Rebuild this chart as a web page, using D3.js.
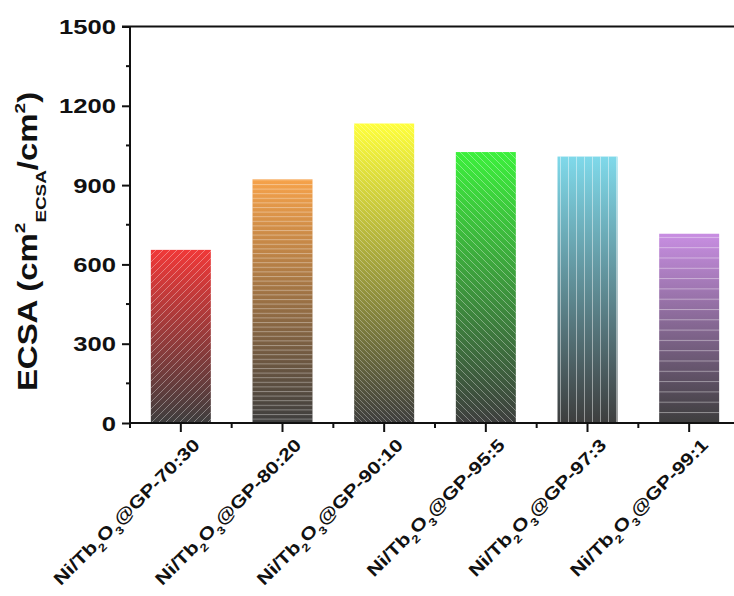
<!DOCTYPE html>
<html>
<head>
<meta charset="utf-8">
<script src="https://cdn.jsdelivr.net/npm/d3@7/dist/d3.min.js"></script>
<style>
  html, body { margin: 0; padding: 0; background: #fff; }
  svg { display: block; }
  text { font-family: Arial, "Liberation Sans", sans-serif; font-weight: bold; fill: #111; }
</style>
</head>
<body>
<svg id="chart" width="734" height="596"></svg>
<script>
// ECSA of Ni/Tb2O3@GP composites at different ratios
const ratios = ["70:30", "80:20", "90:10", "95:5", "97:3", "99:1"];
const ecsa = [655, 922, 1133, 1025, 1008, 716];
const topColors = ["#f03838", "#f6a24a", "#ffff3c", "#3cf03c", "#7fd9ea", "#c88ee2"];
const hatches = ["fwd", "hdense", "backdense", "back", "vert", "hsparse"];
const yTicks = [0, 300, 600, 900, 1200, 1500];
const yMinor = [150, 450, 750, 1050, 1350];

const svg = d3.select("#chart");
const margin = { left: 130, top: 26.5, bottom: 423 };
const wide = 1.22; // horizontal stretch applied to the bold labels

const x = d3.scaleBand()
  .domain(ratios)
  .range([margin.left, margin.left + 610])
  .paddingInner(0.41)
  .paddingOuter(0.205);

const y = d3.scaleLinear()
  .domain([0, 1500])
  .range([margin.bottom, margin.top]);

const defs = svg.append("defs");
const bottomColor = "#3e3e3e";

// vertical gradient per bar: bright colour at the top fading to dark grey
topColors.forEach((c, i) => {
  const g = defs.append("linearGradient")
    .attr("id", "grad" + i)
    .attr("x1", 0).attr("y1", 0).attr("x2", 0).attr("y2", 1);
  g.append("stop").attr("offset", "0%").attr("stop-color", c);
  g.append("stop").attr("offset", "100%").attr("stop-color", bottomColor);
});

// hatch patterns (light lines over the gradient)
function pattern(id, size, opacity, lines) {
  const p = defs.append("pattern")
    .attr("id", id)
    .attr("patternUnits", "userSpaceOnUse")
    .attr("width", size).attr("height", size);
  lines.forEach(l => {
    p.append("line")
      .attr("x1", l[0]).attr("y1", l[1]).attr("x2", l[2]).attr("y2", l[3])
      .attr("stroke", "#ffffff")
      .attr("stroke-opacity", opacity)
      .attr("stroke-width", 1);
  });
}
pattern("fwd", 7, 0.35, [[0, 7, 7, 0], [-1, 1, 1, -1], [6, 8, 8, 6]]);
pattern("back", 7, 0.35, [[0, 0, 7, 7], [-1, 6, 1, 8], [6, -1, 8, 1]]);
pattern("backdense", 5, 0.3, [[0, 0, 5, 5], [-1, 4, 1, 6], [4, -1, 6, 1]]);
pattern("hdense", 4.6, 0.35, [[0, 0.5, 4.6, 0.5]]);
pattern("hsparse", 10.3, 0.4, [[0, 0.5, 10.3, 0.5]]);
pattern("vert", 8, 0.45, [[0.5, 0, 0.5, 8]]);

// bars
const bars = svg.append("g");
ratios.forEach((r, i) => {
  const bx = x(r), bw = x.bandwidth(), by = y(ecsa[i]), bh = y(0) - y(ecsa[i]);
  bars.append("rect")
    .attr("x", bx).attr("y", by).attr("width", bw).attr("height", bh)
    .attr("fill", `url(#grad${i})`);
  bars.append("rect")
    .attr("x", bx).attr("y", by).attr("width", bw).attr("height", bh)
    .attr("fill", `url(#${hatches[i]})`);
});

// y axis (line and ticks from d3, labels drawn below)
const yAxis = svg.append("g")
  .attr("transform", `translate(${margin.left},0)`)
  .call(d3.axisLeft(y).tickValues(yTicks).tickSize(8).tickFormat(""));
yAxis.select(".domain").attr("stroke", "#111").attr("stroke-width", 2).attr("d", `M0,${y(1500)}V${y(0)}`);
yAxis.selectAll(".tick line").attr("stroke", "#111").attr("stroke-width", 2);

svg.append("g").selectAll("text").data(yTicks).join("text")
  .attr("transform", d => `translate(${margin.left - 14},${y(d) + 7.5}) scale(${wide},1)`)
  .attr("text-anchor", "end")
  .style("font-size", "21px")
  .text(d => d);

// y minor ticks
svg.append("g").selectAll("line").data(yMinor).join("line")
  .attr("x1", margin.left - 4).attr("x2", margin.left)
  .attr("y1", d => y(d)).attr("y2", d => y(d))
  .attr("stroke", "#111").attr("stroke-width", 2);

// top frame line
svg.append("line")
  .attr("x1", margin.left - 8).attr("x2", 734)
  .attr("y1", y(1500)).attr("y2", y(1500))
  .attr("stroke", "#111").attr("stroke-width", 2);

// x axis
const xAxis = svg.append("g")
  .attr("transform", `translate(0,${y(0)})`)
  .call(d3.axisBottom(x).tickSize(9).tickFormat(""));
xAxis.select(".domain").attr("stroke", "#111").attr("stroke-width", 2)
  .attr("d", `M${margin.left - 1},0H734`);
xAxis.selectAll(".tick line").attr("stroke", "#111").attr("stroke-width", 2);

// x minor ticks between categories
svg.append("g").selectAll("line").data(ratios).join("line")
  .attr("x1", d => x(d) + x.bandwidth() / 2 - x.step() / 2)
  .attr("x2", d => x(d) + x.bandwidth() / 2 - x.step() / 2)
  .attr("y1", y(0)).attr("y2", y(0) + 5)
  .attr("stroke", "#111").attr("stroke-width", 2);

// rotated category labels with chemical subscripts
const labels = svg.append("g");
ratios.forEach(r => {
  const cx = x(r) + x.bandwidth() / 2;
  const t = labels.append("text")
    .attr("transform", `translate(${cx + 20},${y(0) + 23}) rotate(-45) scale(${wide},1)`)
    .attr("text-anchor", "end")
    .style("font-size", "17.5px");
  t.append("tspan").text("Ni/Tb");
  t.append("tspan").attr("dy", 6).style("font-size", "11px").text("2");
  t.append("tspan").attr("dy", -6).text("O");
  t.append("tspan").attr("dy", 6).style("font-size", "11px").text("3");
  t.append("tspan").attr("dy", -6).text("@GP-" + r);
});

// y axis title
const title = svg.append("text")
  .attr("transform", `translate(37,241.5) rotate(-90) scale(${wide},1)`)
  .attr("text-anchor", "middle")
  .style("font-size", "27px");
title.append("tspan").text("ECSA (cm");
title.append("tspan").attr("dy", -12).style("font-size", "15.5px").text("2");
title.append("tspan").attr("dy", 21).style("font-size", "15.5px").text("ECSA");
title.append("tspan").attr("dy", -9).text("/cm");
title.append("tspan").attr("dy", -12).style("font-size", "15.5px").text("2");
title.append("tspan").attr("dy", 12).text(")");
</script>
</body>
</html>
